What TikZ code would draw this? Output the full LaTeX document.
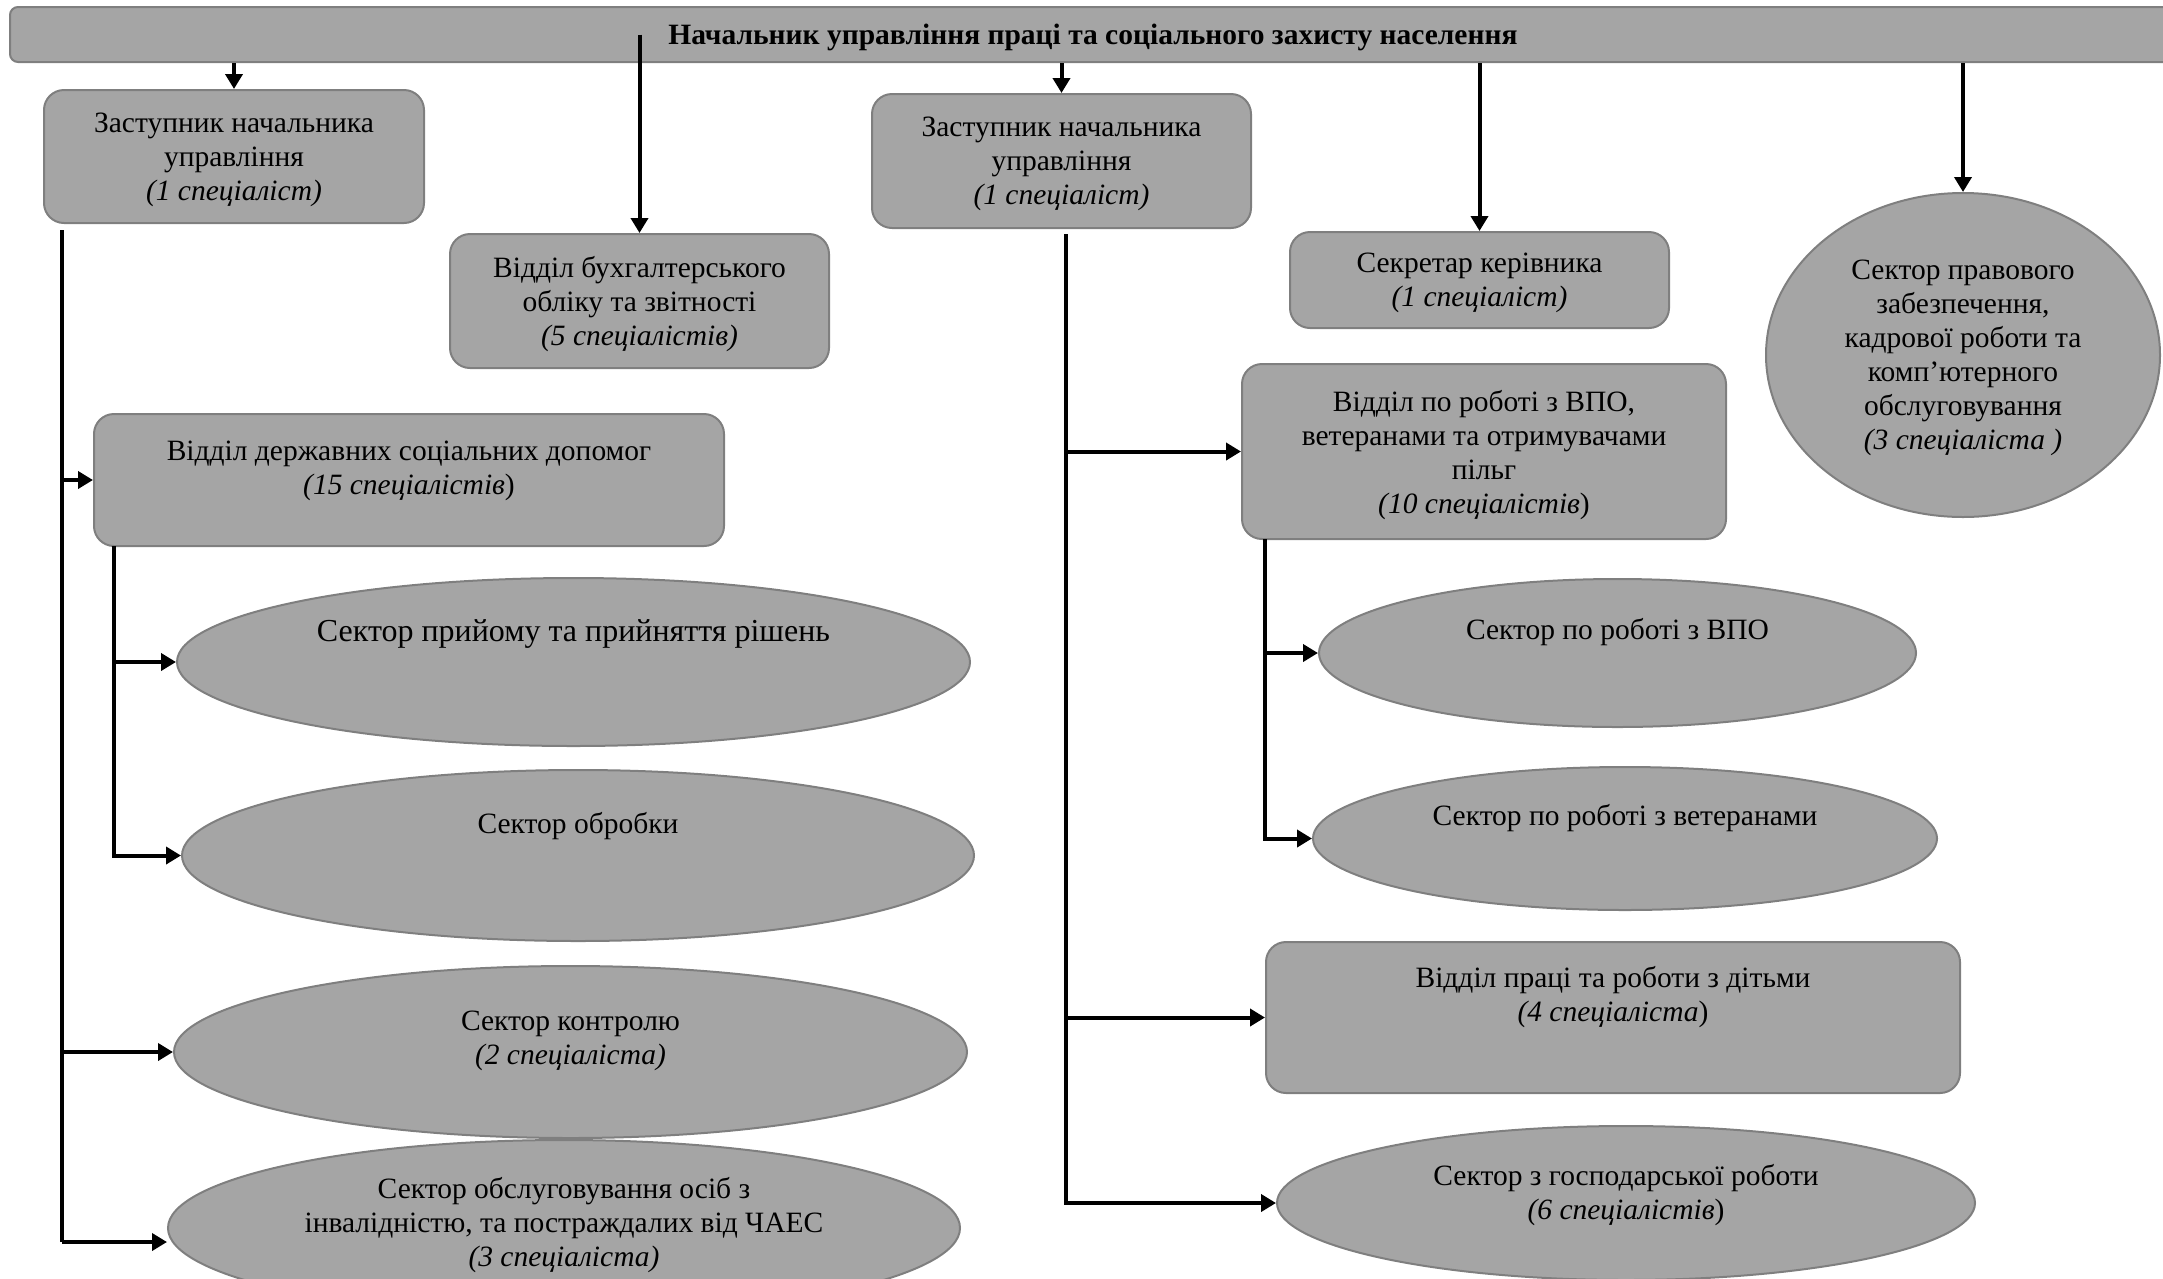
\documentclass[tikz,border=0pt]{standalone}
\usepackage{fontspec}
\setmainfont{Liberation Serif}
\usetikzlibrary{shapes.geometric,arrows.meta}

\definecolor{unitgray}{HTML}{A5A5A5}
\definecolor{edgegray}{HTML}{7F7F7F}

\tikzset{
  unit/.style={draw=edgegray, fill=unitgray, line width=2pt, align=center, inner sep=0pt,
    text depth=-2pt, font=\fontsize{29.5}{34}\selectfont},
  boxunit/.style={unit, rectangle, rounded corners=20pt},
  ovalunit/.style={unit, ellipse},
  lift/.style={text depth=#1},
  trunk/.style={line width=3.5pt},
  link/.style={line width=4pt, -{Triangle[length=15pt,width=17pt]}}
}

\begin{document}
\begin{tikzpicture}[x=1pt,y=-1pt]
  \path[use as bounding box, clip] (0,0) rectangle (2163,1278);

  % head of the department
  \node[boxunit, rounded corners=8pt, minimum width=2166pt, minimum height=55pt,
    font=\fontsize{29.5}{34}\selectfont\bfseries] (chief) at (1093,34.5)
    {Начальник управління праці та соціального захисту населення};

  % first level
  \node[boxunit, minimum width=380pt, minimum height=133pt] (dep1) at (234,156.5)
    {Заступник начальника\\управління\\\textit{(1 спеціаліст)}};
  \node[boxunit, minimum width=379pt, minimum height=134pt] (acc) at (639.5,301)
    {Відділ бухгалтерського\\обліку та звітності\\\textit{(5 спеціалістів)}};
  \node[boxunit, minimum width=379pt, minimum height=134pt] (dep2) at (1061.5,161)
    {Заступник начальника\\управління\\\textit{(1 спеціаліст)}};
  \node[boxunit, minimum width=379pt, minimum height=96pt] (secr) at (1479.5,280)
    {Секретар керівника\\\textit{(1 спеціаліст)}};
  \node[ovalunit, minimum width=394pt, minimum height=324pt] (legal) at (1963,355)
    {Сектор правового\\забезпечення,\\кадрової роботи та\\комп’ютерного\\обслуговування\\\textit{(3 спеціаліста )}};

  % left branch
  \node[boxunit, lift=25pt, minimum width=630pt, minimum height=132pt] (soc) at (409,480)
    {Відділ державних соціальних допомог\\\textit{(15 спеціалістів})};
  \node[ovalunit, lift=62pt, minimum width=793pt, minimum height=168pt,
    font=\fontsize{32}{37}\selectfont] (recv) at (573.5,662)
    {Сектор прийому та прийняття рішень};
  \node[ovalunit, lift=65pt, minimum width=792pt, minimum height=171pt] (proc) at (578,855.5)
    {Сектор обробки};
  \node[ovalunit, lift=29pt, minimum width=793pt, minimum height=172pt] (ctrl) at (570.5,1052)
    {Сектор контролю\\\textit{(2 спеціаліста)}};
  \node[ovalunit, lift=13pt, minimum width=792pt, minimum height=176pt] (disab) at (564,1228)
    {Сектор обслуговування осіб з\\інвалідністю, та постраждалих від ЧАЕС\\\textit{(3 спеціаліста)}};

  % right branch
  \node[boxunit, minimum width=484pt, minimum height=175pt] (vpo) at (1484,451.5)
    {Відділ по роботі з ВПО,\\ветеранами та отримувачами\\пільг\\\textit{(10 спеціалістів})};
  \node[ovalunit, lift=49pt, minimum width=597pt, minimum height=148pt] (svpo) at (1617.5,653)
    {Сектор по роботі з ВПО};
  \node[ovalunit, lift=48pt, minimum width=624pt, minimum height=143pt] (svet) at (1625,838.5)
    {Сектор по роботі з ветеранами};
  \node[boxunit, lift=48pt, minimum width=694pt, minimum height=151pt] (kids) at (1613,1017.5)
    {Відділ праці та роботи з дітьми\\\textit{(4 спеціаліста})};
  \node[ovalunit, lift=23pt, minimum width=698pt, minimum height=154pt] (econ) at (1626,1203)
    {Сектор з господарської роботи\\\textit{(6 спеціалістів})};

  % arrows from the head
  \draw[link] (dep1.north |- chief.south) -- (dep1.north);
  \draw[link] (acc.north |- chief.center) -- (acc.north);
  \draw[link] (dep2.north |- chief.south) -- (dep2.north);
  \draw[link] (secr.north |- chief.south) -- (secr.north);
  \draw[link] (legal.north |- chief.south) -- (legal.north);

  % left trunk
  \coordinate (ltop) at (62,230);
  \coordinate (lbot) at (62,1242);
  \draw[trunk] (ltop) -- (lbot);
  \draw[link] (ltop |- soc.west) -- (soc.west);
  \draw[link] (ltop |- ctrl.west) -- (ctrl.west);
  \draw[link] (lbot) -- (lbot -| disab.west);
  \coordinate (sl) at (114,546);
  \draw[link] (sl) |- (proc.west);
  \draw[link] (sl |- recv.west) -- (recv.west);

  % right trunk
  \coordinate (rtop) at (1066,234);
  \draw[link] (rtop) |- (econ.west);
  \draw[link] (rtop |- vpo.west) -- (vpo.west);
  \draw[link] (rtop |- kids.west) -- (kids.west);
  \coordinate (sr) at (1265,539);
  \draw[link] (sr) |- (svet.west);
  \draw[link] (sr |- svpo.west) -- (svpo.west);
\end{tikzpicture}
\end{document}
